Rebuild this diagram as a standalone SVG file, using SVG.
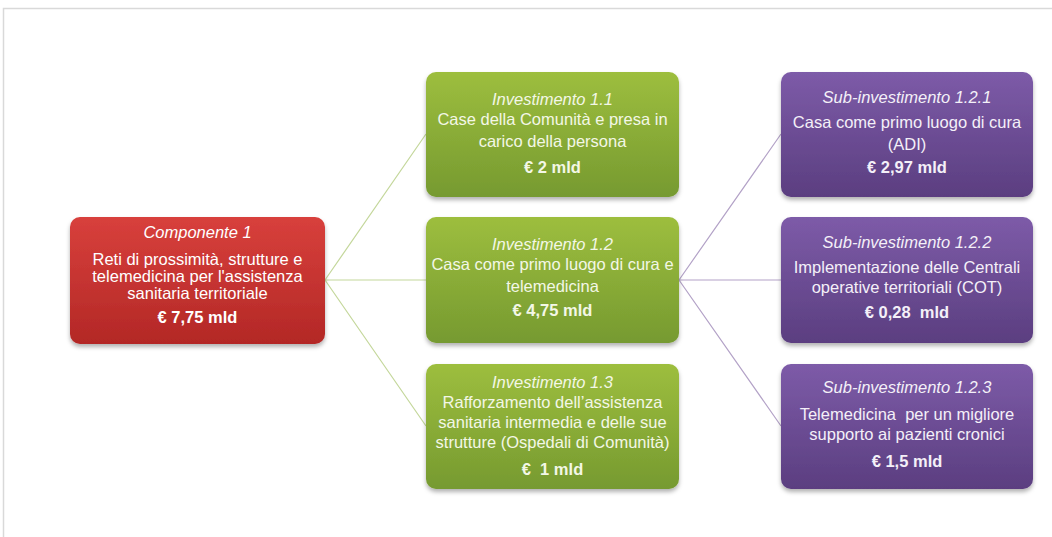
<svg xmlns="http://www.w3.org/2000/svg" width="1052" height="537" viewBox="0 0 1052 537">
<style>
text{font-family:"Liberation Sans",Arial,sans-serif;font-size:16.5px;fill:#ffffff;text-anchor:middle}
.it{font-style:italic}
.b{font-weight:bold}
.g text{fill:#f3f7e6}
.p text{fill:#f4f0f8}
.cg{stroke:#c4d79b;stroke-width:1.2;fill:none}
.cp{stroke:#b3a2c7;stroke-width:1.2;fill:none}
</style>
<defs>
<linearGradient id="gr" x1="0" y1="0" x2="0" y2="1"><stop offset="0" stop-color="#d8403c"/><stop offset="1" stop-color="#b32826"/></linearGradient>
<linearGradient id="gg" x1="0" y1="0" x2="0" y2="1"><stop offset="0" stop-color="#9dbe3e"/><stop offset="1" stop-color="#769a30"/></linearGradient>
<linearGradient id="gp" x1="0" y1="0" x2="0" y2="1"><stop offset="0" stop-color="#7d5ba8"/><stop offset="1" stop-color="#5b3e80"/></linearGradient>
<filter id="sh" x="-10%" y="-10%" width="120%" height="130%"><feDropShadow dx="0" dy="3" stdDeviation="2" flood-color="#000" flood-opacity="0.3"/></filter>
</defs>
<rect width="1052" height="537" fill="#fff"/>
<path d="M3.5 537V8.5H1052" stroke="#d9d9d9" stroke-width="1.5" fill="none"/>
<g id="connectors">
<path class="cg" d="M325 280L426 134M325 280L426 280M325 280L426 426"/>
<path class="cp" d="M679 280L781 134M679 280L781 280M679 280L781 426"/>
</g>
<g id="n-comp1">
<rect x="70" y="217" width="255" height="127" rx="10" fill="url(#gr)" filter="url(#sh)"/>
<text class="it" x="197.5" y="238">Componente 1</text>
<text x="197.5" y="265">Reti di prossimità, strutture e</text>
<text x="197.5" y="282">telemedicina per l'assistenza</text>
<text x="197.5" y="299">sanitaria territoriale</text>
<text class="b" x="197.5" y="323">€ 7,75 mld</text>
</g>
<g id="n-inv11" class="g">
<rect x="426" y="72" width="253" height="125" rx="10" fill="url(#gg)" filter="url(#sh)"/>
<text class="it" x="552.5" y="105">Investimento 1.1</text>
<text x="552.5" y="125">Case della Comunità e presa in</text>
<text x="552.5" y="147">carico della persona</text>
<text class="b" x="552.5" y="173">€ 2 mld</text>
</g>
<g id="n-inv12" class="g">
<rect x="426" y="217" width="253" height="126" rx="10" fill="url(#gg)" filter="url(#sh)"/>
<text class="it" x="552.5" y="250">Investimento 1.2</text>
<text x="552.5" y="270">Casa come primo luogo di cura e</text>
<text x="552.5" y="292">telemedicina</text>
<text class="b" x="552.5" y="316">€ 4,75 mld</text>
</g>
<g id="n-inv13" class="g">
<rect x="426" y="364" width="253" height="125" rx="10" fill="url(#gg)" filter="url(#sh)"/>
<text class="it" x="552.5" y="388">Investimento 1.3</text>
<text x="552.5" y="408">Rafforzamento dell’assistenza</text>
<text x="552.5" y="428">sanitaria intermedia e delle sue</text>
<text x="552.5" y="448">strutture (Ospedali di Comunità)</text>
<text class="b" x="552.5" y="475">€&#160; 1 mld</text>
</g>
<g id="n-sub121" class="p">
<rect x="781" y="72" width="252" height="125" rx="10" fill="url(#gp)" filter="url(#sh)"/>
<text class="it" x="907" y="103">Sub-investimento 1.2.1</text>
<text x="907" y="128">Casa come primo luogo di cura</text>
<text x="907" y="150">(ADI)</text>
<text class="b" x="907" y="173">€ 2,97 mld</text>
</g>
<g id="n-sub122" class="p">
<rect x="781" y="217" width="252" height="126" rx="10" fill="url(#gp)" filter="url(#sh)"/>
<text class="it" x="907" y="248">Sub-investimento 1.2.2</text>
<text x="907" y="273">Implementazione delle Centrali</text>
<text x="907" y="293">operative territoriali (COT)</text>
<text class="b" x="907" y="318">€ 0,28&#160; mld</text>
</g>
<g id="n-sub123" class="p">
<rect x="781" y="364" width="252" height="125" rx="10" fill="url(#gp)" filter="url(#sh)"/>
<text class="it" x="907" y="393">Sub-investimento 1.2.3</text>
<text x="907" y="420">Telemedicina&#160; per un migliore</text>
<text x="907" y="440">supporto ai pazienti cronici</text>
<text class="b" x="907" y="467">€ 1,5 mld</text>
</g>
</svg>
